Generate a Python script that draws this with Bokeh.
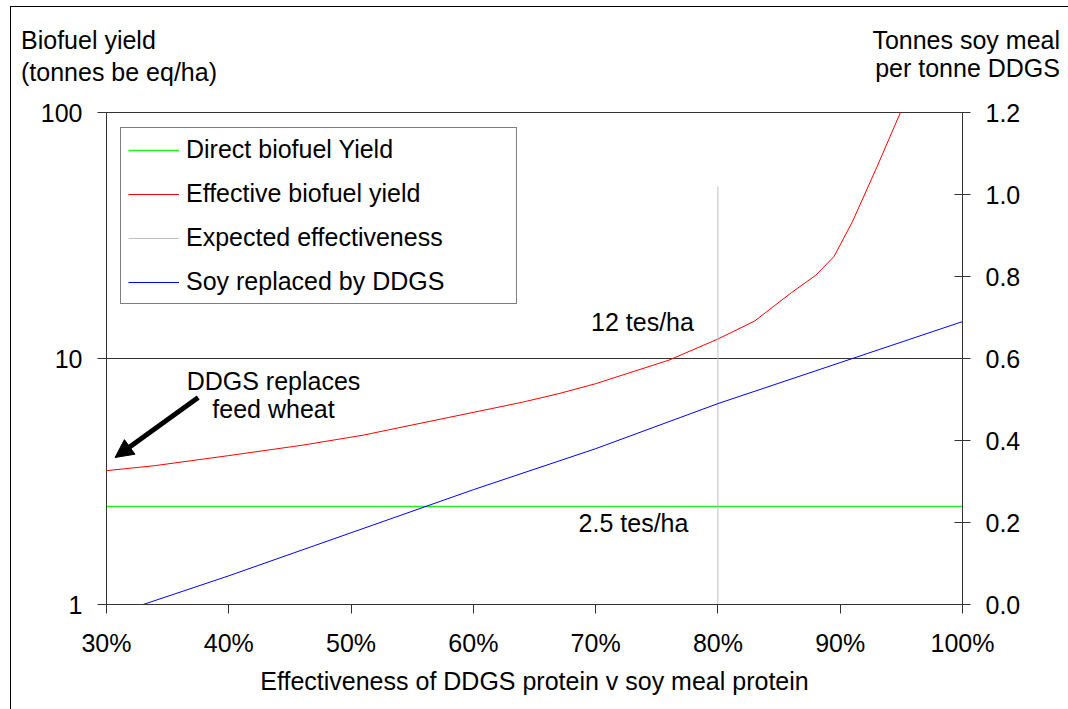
from bokeh.plotting import figure
from bokeh.layouts import column
from bokeh.models import (Range1d, LinearAxis, LinearScale, FixedTicker, NumeralTickFormatter,
                          Legend, LegendItem, Label, Arrow, NormalHead, Div)
from bokeh.embed import file_html
from bokeh.resources import INLINE

# --- data -----------------------------------------------------------------
# Effectiveness of DDGS protein relative to soy meal protein (fraction)
direct_x = [0.30, 1.00]
direct_yield = [2.5, 2.5]          # tonnes biofuel eq / ha

effective_x = [0.30, 0.34, 0.40, 0.46, 0.51, 0.53, 0.58, 0.64, 0.67, 0.70,
               0.76, 0.80, 0.83, 0.86, 0.88, 0.895, 0.91, 0.93, 0.95]
effective_yield = [3.50, 3.67, 4.03, 4.44, 4.88, 5.12, 5.76, 6.64, 7.20, 7.90,
                   9.85, 12.0, 14.2, 18.5, 21.8, 26.0, 36.0, 60.0, 102.0]

expected_x = [0.80, 0.80]
expected_y = [1, 50]

soy_x = [0.30, 0.40, 0.50, 0.60, 0.70, 0.80, 0.90, 1.00]
soy_replaced = [-0.03, 0.07, 0.175, 0.28, 0.38, 0.49, 0.59, 0.69]  # t soy meal / t DDGS

x_ticks = [0.3, 0.4, 0.5, 0.6, 0.7, 0.8, 0.9, 1.0]
left_ticks = [1, 10, 100]
right_ticks = [0.0, 0.2, 0.4, 0.6, 0.8, 1.0, 1.2]

left_title = ["Biofuel yield", "(tonnes be eq/ha)"]
right_title = ["Tonnes soy meal", "per tonne DDGS"]

# --- styling --------------------------------------------------------------
FONT = "Liberation Sans"
FS = "25px"
AXIS_COLOR = "#333333"
HEAD_H = 90

# header strip holding the two axis titles
head_html = (
    f'<div style="position:relative;width:1068px;height:{HEAD_H}px;'
    f"font-family:'{FONT}';font-size:{FS};color:#000;\">"
    '<div style="position:absolute;left:21px;top:24px;line-height:32px;white-space:nowrap;">'
    + "<br>".join(left_title) + "</div>"
    '<div style="position:absolute;right:8px;top:26px;line-height:28px;'
    'text-align:right;white-space:nowrap;">'
    + "<br>".join(right_title) + "</div></div>")
head = Div(text=head_html, width=1068, height=HEAD_H, margin=0)

# main chart
p = figure(width=1068, height=709 - HEAD_H, output_backend="svg", toolbar_location=None,
           x_range=Range1d(0.30, 1.00), y_range=Range1d(1, 100), y_axis_type="log",
           min_border_left=106, min_border_right=106, min_border_top=112 - HEAD_H,
           min_border_bottom=105)
p.background_fill_color = "white"
p.border_fill_alpha = 0
p.outline_line_color = AXIS_COLOR
p.extra_y_ranges = {"right": Range1d(0.0, 1.2)}
p.extra_y_scales = {"right": LinearScale()}

# left (log) axis
ly = p.yaxis[0]
ly.ticker = FixedTicker(ticks=left_ticks, minor_ticks=[])
ly.formatter = NumeralTickFormatter(format="0")
ly.major_tick_in = 0
ly.major_tick_out = 9
ly.major_label_standoff = 15

# bottom axis
bx = p.xaxis[0]
bx.ticker = FixedTicker(ticks=x_ticks, minor_ticks=[])
bx.formatter = NumeralTickFormatter(format="0%")
bx.major_tick_in = 0
bx.major_tick_out = 9
bx.major_label_standoff = 15
bx.axis_label = "Effectiveness of DDGS protein v soy meal protein"
bx.axis_label_standoff = 7
bx.axis_label_text_font_style = "normal"

# right axis
ry = LinearAxis(y_range_name="right", ticker=FixedTicker(ticks=right_ticks, minor_ticks=[]),
                formatter=NumeralTickFormatter(format="0.0"))
ry.major_tick_in = 8
ry.major_tick_out = 8
ry.major_label_standoff = 15
p.add_layout(ry, "right")

for ax in (ly, bx, ry):
    ax.minor_tick_in = 0
    ax.minor_tick_out = 0
    ax.axis_line_color = AXIS_COLOR
    ax.major_tick_line_color = AXIS_COLOR
    ax.major_label_text_font = FONT
    ax.major_label_text_font_size = FS
    ax.major_label_text_color = "black"
    ax.axis_label_text_font = FONT
    ax.axis_label_text_font_size = FS
    ax.axis_label_text_color = "black"

p.xgrid.visible = False
p.ygrid.grid_line_color = AXIS_COLOR
p.ygrid.grid_line_width = 1

# --- series ---------------------------------------------------------------
r_direct = p.line(direct_x, direct_yield, line_color="#22ee22", line_width=1.5)
r_eff = p.line(effective_x, effective_yield, line_color="#ff0000", line_width=1)
r_exp = p.line(expected_x, expected_y, line_color="#c0c0c0", line_width=1)
r_soy = p.line(soy_x, soy_replaced, line_color="#0000ff", line_width=1, y_range_name="right")

legend = Legend(
    items=[LegendItem(label="Direct biofuel Yield", renderers=[r_direct]),
           LegendItem(label="Effective biofuel yield", renderers=[r_eff]),
           LegendItem(label="Expected effectiveness", renderers=[r_exp]),
           LegendItem(label="Soy replaced by DDGS", renderers=[r_soy])],
    location=(14, 300), orientation="vertical",
    label_text_font=FONT, label_text_font_size=FS, label_text_color="black",
    glyph_width=51, glyph_height=20, label_standoff=7, label_width=323,
    label_height=28, spacing=15, padding=7, margin=0,
    border_line_color="black", border_line_width=1,
    background_fill_color="white", background_fill_alpha=1.0)
p.add_layout(legend)


# --- call-outs inside the plot area (screen offsets from the frame's lower left) ---
def label(text, x, y):
    p.add_layout(Label(x=x, y=y, x_units="screen", y_units="screen", text=text,
                       text_font=FONT, text_font_size=FS, text_color="black",
                       text_align="center", text_baseline="middle"))


label("12 tes/ha", 536, 283)
label("2.5 tes/ha", 527, 82)
label("DDGS replaces", 167, 224)
label("feed wheat", 167, 196)

p.add_layout(Arrow(end=NormalHead(size=18, fill_color="black", line_color="black"),
                   x_start=0.375, y_start=6.94, x_end=0.307, y_end=3.96,
                   line_color="black", line_width=5))

# page: header over chart, with the thin outer frame drawn as a background
page = column(head, p, spacing=0, styles={
    "background": ("linear-gradient(#000, #000) 10px 6px / 1px 100% no-repeat, "
                   "linear-gradient(#000, #000) 10px 6px / 100% 1px no-repeat, #fff")})

open("out.html", "w").write(file_html(page, INLINE))
